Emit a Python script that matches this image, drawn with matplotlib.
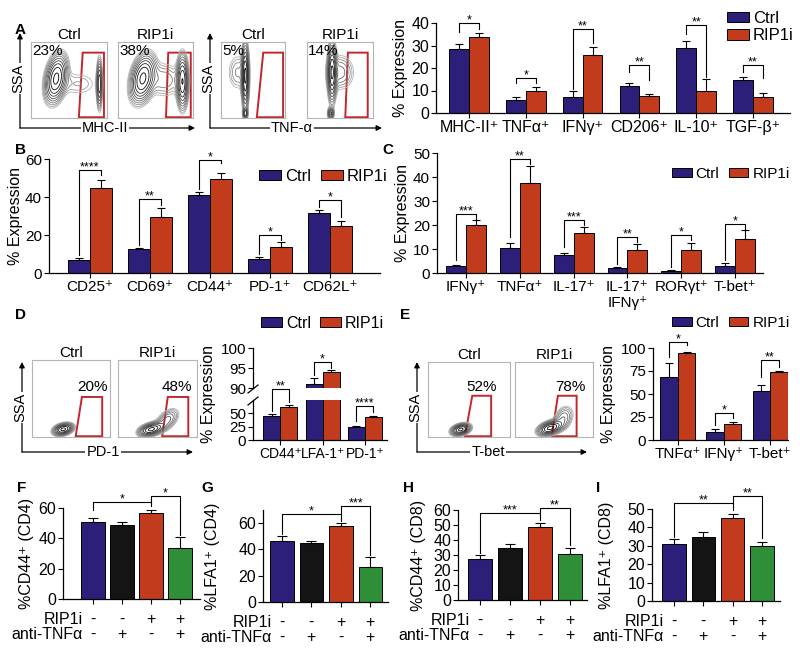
import numpy as np
import matplotlib.pyplot as plt
from matplotlib.patches import Patch, Polygon

plt.rcParams['font.family'] = ['Liberation Sans', 'DejaVu Sans']
plt.rcParams['axes.linewidth'] = 0.9

BLUE = '#2c1f7a'
RED = '#c33b1d'
BLACK = '#141414'
GREEN = '#2f8f38'
GATE = '#c1272d'

# ---------------- data ----------------
groups = ['Ctrl', 'RIP1i']

# A (macrophages)
a_cats = ['MHC-II⁺', 'TNFα⁺', 'IFNγ⁺', 'CD206⁺', 'IL-10⁺', 'TGF-β⁺']
a_ctrl = [28.5, 6, 7, 12, 29, 14.5]
a_ctrl_err = [2, 1, 3, 1.5, 3, 1.5]
a_rip = [34, 10, 26, 7.5, 10, 7]
a_rip_err = [1.5, 1.5, 3.5, 0.8, 5, 2]
a_sig = ['*', '*', '**', '**', '**', '**']
a_brk = [(40, 36, 37.5), (15.4, 13.2, 13.2), (37.5, 10.5, 31), (21.3, 18.4, 14.7),
         (39, 35.3, 16.2), (21.3, 18.4, 15.4)]
a_pct = ['23%', '38%', '5%', '14%']

# B (CD4 activation)
b_cats = ['CD25⁺', 'CD69⁺', 'CD44⁺', 'PD-1⁺', 'CD62L⁺']
b_ctrl = [7, 12.5, 41, 7.5, 31.5]
b_ctrl_err = [1, 0.5, 1.5, 1, 1.5]
b_rip = [45, 29.5, 49.5, 13.5, 24.5]
b_rip_err = [4, 4.5, 3, 3, 3]
b_sig = ['****', '**', '*', '*', '*']
b_brk = [(54.2, 9.5, 51.6), (39.2, 14.6, 35.7), (59.5, 44, 57.7), (19.9, 10, 17.2),
         (38.4, 34.8, 29.6)]

# C (cytokines)
c_cats = ['IFNγ⁺', 'TNFα⁺', 'IL-17⁺', 'IL-17⁺\nIFNγ⁺', 'RORγt⁺', 'T-bet⁺']
c_ctrl = [3, 10.5, 7.5, 2, 1, 3]
c_ctrl_err = [0.5, 2, 1, 0.5, 0.3, 1]
c_rip = [20, 37.5, 16.5, 9.5, 9.5, 14]
c_rip_err = [2, 7, 2.5, 2.5, 3, 4]
c_sig = ['***', '**', '***', '**', '*', '*']
c_brk = [(24.7, 5.3, 22.6), (47.6, 15, 45.6), (22, 10.8, 19.9), (15, 3.9, 12.9),
         (15.7, 2.5, 13.6), (20.6, 5.3, 18.5)]

# D (PD-1, broken axis)
d_cats = ['CD44⁺', 'LFA-1⁺', 'PD-1⁺']
d_ctrl = [45, 91, 25]
d_ctrl_err = [4, 1.5, 2]
d_rip = [62, 94, 44]
d_rip_err = [3, 0.4, 1]
d_sig = ['**', '*', '****']
d_brk = [(95.6, 55, 72), (96.6, 93.3, 95), (63.8, 35, 53)]
d_pct = ['20%', '48%']

# E (T-bet)
e_cats = ['TNFα⁺', 'IFNγ⁺', 'T-bet⁺']
e_ctrl = [69, 9, 53]
e_ctrl_err = [15, 3, 7]
e_rip = [95, 17, 73.5]
e_rip_err = [1, 3, 1]
e_sig = ['*', '*', '**']
e_brk = [(107, 90, 103), (29, 16, 23.5), (86.6, 68, 79)]
e_pct = ['52%', '78%']

# F-I (anti-TNFa blocking)
rip_signs = ['-', '-', '+', '+']
tnf_signs = ['-', '+', '-', '+']
f_vals = [51, 49, 57, 33.5]
f_err = [2.5, 1.5, 1.5, 7.5]
f_brk = [(63.7, 59, 61.5, '*'), (68, 63.7, 42, '*')]
g_vals = [46.5, 45, 58, 27]
g_err = [4, 1.5, 2, 7.5]
g_brk = [(67.1, 52, 62, '*'), (72.7, 67.1, 36, '***')]
h_vals = [27.5, 35, 48.5, 31]
h_err = [2.5, 2.5, 3, 3.5]
h_brk = [(57.8, 31.5, 53.3, '***'), (61.1, 57.8, 36.5, '**')]
i_vals = [31, 35, 45, 30]
i_err = [2.5, 2.5, 2.5, 2]
i_brk = [(53.3, 35, 49.6, '**'), (57.3, 53.3, 34, '**')]

# contour blobs for the flow plots: (cx, cy, sx, sy, weight, rho)
mhc_ctrl = [(0.33, 0.52, 0.075, 0.16, 1.0, 0.3), (0.90, 0.45, 0.02, 0.17, 0.6, 0.0),
            (0.62, 0.45, 0.16, 0.10, 0.1, 0.0)]
mhc_rip = [(0.33, 0.52, 0.085, 0.16, 1.0, 0.3), (0.86, 0.48, 0.04, 0.18, 0.9, 0.0),
           (0.62, 0.50, 0.13, 0.13, 0.18, 0.0)]
tnf_ctrl = [(0.38, 0.55, 0.03, 0.22, 1.0, 0.0), (0.38, 0.06, 0.02, 0.04, 0.6, 0.0),
            (0.26, 0.60, 0.09, 0.14, 0.15, 0.0)]
tnf_rip = [(0.38, 0.60, 0.035, 0.2, 1.0, 0.0), (0.36, 0.06, 0.025, 0.04, 0.6, 0.0),
           (0.50, 0.60, 0.12, 0.13, 0.25, 0.0)]
pd1_ctrl = [(0.40, 0.10, 0.065, 0.04, 1.0, 0.3)]
pd1_rip = [(0.42, 0.10, 0.08, 0.045, 1.0, 0.4), (0.62, 0.22, 0.08, 0.08, 0.3, 0.5)]
tbet_ctrl = [(0.40, 0.10, 0.06, 0.04, 1.0, 0.3)]
tbet_rip = [(0.45, 0.12, 0.08, 0.05, 1.0, 0.4), (0.62, 0.25, 0.07, 0.09, 0.25, 0.3)]

# ---------------- figure ----------------
W, H = 800, 651
fig = plt.figure(figsize=(W / 100, H / 100), dpi=100)
ov = fig.add_axes([0, 0, 1, 1], zorder=5)
ov.set_xlim(0, W)
ov.set_ylim(H, 0)
ov.axis('off')


def box(l, t, r, b):
    return fig.add_axes([l / W, 1 - b / H, (r - l) / W, (b - t) / H])


def style(ax, fs):
    ax.spines['top'].set_visible(False)
    ax.spines['right'].set_visible(False)
    ax.tick_params(direction='out', length=3.5, width=0.8, pad=1.5, labelsize=fs)


def bracket(ax, x1, x2, y, yl, yr, label, fs=9):
    ax.plot([x1, x1, x2, x2], [yl, y, y, yr], color='black', lw=0.8, clip_on=False)
    ax.annotate(label, ((x1 + x2) / 2, y), xytext=(0, -2.5), textcoords='offset points',
                ha='center', va='bottom', fontsize=fs, annotation_clip=False)


def pair_axes(rect, cats, ctrl, ctrl_err, rip, rip_err, w, xlim, ylim, yticks, fs_tick, fs_lab,
              brk, sig):
    ax = box(*rect)
    x = np.arange(len(cats))
    ek = dict(elinewidth=0.8, capsize=3, capthick=0.8, ecolor='black')
    z = np.zeros(len(x))
    ax.bar(x - w / 2, ctrl, w, color=BLUE, edgecolor='black', linewidth=0.7,
           yerr=[z, ctrl_err], error_kw=ek)
    ax.bar(x + w / 2, rip, w, color=RED, edgecolor='black', linewidth=0.7,
           yerr=[z, rip_err], error_kw=ek)
    ax.set_xlim(*xlim)
    ax.set_ylim(*ylim)
    ax.set_yticks(yticks)
    ax.set_xticks(x)
    ax.set_xticklabels(cats, fontsize=fs_lab)
    style(ax, fs_tick)
    for i, ((y, yl, yr), s) in enumerate(zip(brk, sig)):
        bracket(ax, i - w / 2, i + w / 2, y, yl, yr, s)
    return ax


def legend(x, y, ncol, fs):
    h = [Patch(fc=BLUE, ec='black', lw=0.7), Patch(fc=RED, ec='black', lw=0.7)]
    fig.legend(h, groups, loc='upper left', bbox_to_anchor=(x / W, 1 - y / H), ncol=ncol,
               frameon=False, fontsize=fs, handlelength=1.3, handleheight=0.6,
               handletextpad=0.25, columnspacing=0.6, labelspacing=0.15, borderpad=0,
               borderaxespad=0)


def flow(rect, blobs, gate, pct, pct_xy, pct_top, title):
    ax = box(*rect)
    ax.set_xlim(0, 1)
    ax.set_ylim(0, 1)
    ax.set_xticks([])
    ax.set_yticks([])
    for s in ax.spines.values():
        s.set_color('#b5b5b5')
        s.set_linewidth(0.8)
    xx, yy = np.meshgrid(np.linspace(0, 1, 220), np.linspace(0, 1, 220))
    zz = np.zeros_like(xx)
    for cx, cy, sx, sy, wgt, rho in blobs:
        dx = (xx - cx) / sx
        dy = (yy - cy) / sy
        zz += wgt * np.exp(-(dx * dx - 2 * rho * dx * dy + dy * dy) / (2 * (1 - rho * rho)))
    levels = zz.max() * np.geomspace(0.05, 0.9, 10)
    cols = [plt.cm.Greys(v) for v in np.linspace(0.4, 1.0, 10)]
    ax.contour(xx, yy, zz, levels=levels, colors=cols, linewidths=0.6)
    ax.add_patch(Polygon(gate, closed=True, fill=False, edgecolor=GATE, lw=1.4))
    ax.text(pct_xy[0], pct_xy[1], pct, transform=ax.transAxes, fontsize=11,
            ha='left' if pct_top else 'center', va='top' if pct_top else 'bottom')
    ax.set_title(title, fontsize=11, pad=1.5)
    return ax


def arrows(x0, y_top, y0, x_right, ylab_y, xlab, xlab_x):
    ap = dict(arrowstyle='-|>', color='black', lw=0.9, mutation_scale=8, shrinkA=0, shrinkB=0)
    ov.annotate('', xy=(x0, y_top), xytext=(x0, y0), arrowprops=ap)
    ov.annotate('', xy=(x_right, y0), xytext=(x0, y0), arrowprops=ap)
    bb = dict(fc='white', ec='none', pad=0.6)
    ov.text(x0 - 2, ylab_y, 'SSA', rotation=90, ha='center', va='center', fontsize=10.5, bbox=bb)
    ov.text(xlab_x, y0, xlab, ha='center', va='center', fontsize=10.5, bbox=bb)


def quad_axes(rect, vals, errs, xlim, ylim, yticks, brk):
    ax = box(*rect)
    x = np.arange(4)
    ax.bar(x, vals, 0.8, color=[BLUE, BLACK, RED, GREEN], edgecolor='black', linewidth=0.7,
           yerr=[np.zeros(4), errs],
           error_kw=dict(elinewidth=0.8, capsize=3.5, capthick=0.8, ecolor='black'))
    ax.set_xlim(*xlim)
    ax.set_ylim(*ylim)
    ax.set_yticks(yticks)
    ax.set_xticks(x)
    ax.set_xticklabels([])
    style(ax, 11.5)
    (y1, l1, r1, s1), (y2, l2, r2, s2) = brk
    bracket(ax, 0, 2, y1, l1, r1, s1)
    bracket(ax, 2, 3, y2, l2, r2, s2)
    for xi, r, t in zip(x, rip_signs, tnf_signs):
        ax.annotate(r, (xi, 0), xycoords=('data', 'axes fraction'), xytext=(0, -14.5),
                    textcoords='offset points', ha='center', va='center', fontsize=11.5)
        ax.annotate(t, (xi, 0), xycoords=('data', 'axes fraction'), xytext=(0, -25.5),
                    textcoords='offset points', ha='center', va='center', fontsize=11.5)
    ax.annotate('RIP1i', (x[0] - 0.35, 0), xycoords=('data', 'axes fraction'),
                xytext=(0, -14.5), textcoords='offset points', ha='right', va='center',
                fontsize=11.5)
    ax.annotate('anti-TNFα', (x[0] - 0.35, 0), xycoords=('data', 'axes fraction'),
                xytext=(0, -25.5), textcoords='offset points', ha='right', va='center',
                fontsize=11.5)
    return ax


# ---- panel A ----
flow((31, 42, 107, 118), mhc_ctrl, [(0.63, 0.01), (0.68, 0.86), (0.96, 0.86), (0.96, 0.01)],
     a_pct[0], (0.02, 0.98), True, 'Ctrl')
flow((118, 42, 193, 118), mhc_rip, [(0.64, 0.01), (0.67, 0.86), (0.97, 0.86), (0.97, 0.01)],
     a_pct[1], (0.02, 0.98), True, 'RIP1i')
flow((221, 42, 285, 118), tnf_ctrl, [(0.56, 0.01), (0.66, 0.86), (0.97, 0.86), (0.97, 0.01)],
     a_pct[2], (0.02, 0.98), True, 'Ctrl')
flow((307, 42, 373, 118), tnf_rip, [(0.58, 0.01), (0.62, 0.86), (0.92, 0.86), (0.92, 0.01)],
     a_pct[3], (0.02, 0.98), True, 'RIP1i')
arrows(20, 33, 128, 195, 78, 'MHC-II', 105)
arrows(210, 33, 128, 382, 78, 'TNF-α', 292)

pair_axes((436, 23, 790, 113), a_cats, a_ctrl, a_ctrl_err, a_rip, a_rip_err, 0.35,
          (-0.58, 5.65), (0, 40), [0, 10, 20, 30, 40], 11.5, 11, a_brk, a_sig)
legend(727, 11, 1, 12)

# ---- panel B ----
pair_axes((49, 159, 380, 273), b_cats, b_ctrl, b_ctrl_err, b_rip, b_rip_err, 0.37,
          (-0.68, 4.83), (0, 60), [0, 20, 40, 60], 11, 11, b_brk, b_sig)
legend(259, 169, 2, 12)

# ---- panel C ----
pair_axes((437, 153, 763, 273), c_cats, c_ctrl, c_ctrl_err, c_rip, c_rip_err, 0.37,
          (-0.54, 5.52), (0, 50), [0, 10, 20, 30, 40, 50], 11, 11, c_brk, c_sig)
legend(672, 167, 2, 11)

# ---- panel D ----
flow((32, 360, 110, 437), pd1_ctrl, [(0.56, 0.01), (0.64, 0.52), (0.9, 0.52), (0.9, 0.01)],
     d_pct[0], (0.77, 0.56), False, 'Ctrl')
flow((118, 360, 197, 437), pd1_rip, [(0.56, 0.01), (0.63, 0.52), (0.89, 0.52), (0.89, 0.01)],
     d_pct[1], (0.75, 0.56), False, 'RIP1i')
arrows(22, 362, 452, 193, 407, 'PD-1', 103)

d_top = box(253, 348, 387, 388)
d_bot = box(253, 400, 387, 440)
dx = np.arange(len(d_cats))
dw = 0.4
ek = dict(elinewidth=0.8, capsize=3, capthick=0.8, ecolor='black')
for ax in (d_top, d_bot):
    ax.bar(dx - dw / 2, d_ctrl, dw, color=BLUE, edgecolor='black', linewidth=0.7,
           yerr=[np.zeros(3), d_ctrl_err], error_kw=ek)
    ax.bar(dx + dw / 2, d_rip, dw, color=RED, edgecolor='black', linewidth=0.7,
           yerr=[np.zeros(3), d_rip_err], error_kw=ek)
    ax.set_xlim(-0.64, 2.52)
    style(ax, 11)
d_top.set_ylim(90, 100)
d_top.set_yticks([90, 95, 100])
d_top.spines['bottom'].set_visible(False)
d_top.set_xticks([])
d_bot.set_ylim(0, 75)
d_bot.set_yticks([0, 25, 50])
d_bot.set_xticks(dx)
d_bot.set_xticklabels(d_cats, fontsize=10)
for i, ((y, yl, yr), s) in enumerate(zip(d_brk, d_sig)):
    bracket(d_top if i == 1 else d_bot, i - dw / 2, i + dw / 2, y, yl, yr, s)
ov.plot([248, 258], [393, 385], color='black', lw=0.9)
ov.plot([248, 258], [405, 397], color='black', lw=0.9)
legend(261, 316, 2, 11.5)

# ---- panel E ----
flow((428, 362, 510, 437), tbet_ctrl, [(0.45, 0.01), (0.54, 0.55), (0.77, 0.55), (0.77, 0.01)],
     e_pct[0], (0.65, 0.58), False, 'Ctrl')
flow((515, 362, 593, 437), tbet_rip, [(0.47, 0.01), (0.55, 0.55), (0.79, 0.55), (0.79, 0.01)],
     e_pct[1], (0.71, 0.58), False, 'RIP1i')
arrows(417, 362, 452, 587, 407, 'T-bet', 488)

pair_axes((653, 348, 788, 440), e_cats, e_ctrl, e_ctrl_err, e_rip, e_rip_err, 0.38,
          (-0.54, 2.39), (0, 100), [0, 25, 50, 75, 100], 11, 10, e_brk, e_sig)
legend(672, 316, 2, 11)

# ---- panels F-I ----
quad_axes((63, 508, 200, 599), f_vals, f_err, (-1.03, 3.69), (0, 60), [0, 20, 40, 60], f_brk)
quad_axes((263, 510, 388, 602), g_vals, g_err, (-0.64, 3.6), (0, 70), [0, 20, 40, 60], g_brk)
quad_axes((458, 510, 587, 600), h_vals, h_err, (-0.73, 3.57), (0, 60),
          [0, 10, 20, 30, 40, 50, 60], h_brk)
quad_axes((652, 509, 780, 601), i_vals, i_err, (-0.75, 3.62), (0, 50),
          [0, 10, 20, 30, 40, 50], i_brk)

# ---- y labels and panel letters ----
ylabels = [(401, 68, '% Expression'), (16, 216, '% Expression'), (402, 213, '% Expression'),
           (208, 394, '% Expression'), (608, 394, '% Expression'),
           (27, 553, '%CD44⁺ (CD4)'), (212, 556, '%LFA1⁺ (CD4)'),
           (418, 555, '%CD44⁺ (CD8)'), (606, 555, '%LFA1⁺ (CD8)')]
for x, y, s in ylabels:
    ov.text(x, y, s, rotation=90, ha='center', va='center', fontsize=11.5)

letters = [(20, 30, 'A'), (20, 150, 'B'), (388, 150, 'C'), (20, 315, 'D'), (405, 315, 'E'),
           (22, 488, 'F'), (207, 488, 'G'), (408, 488, 'H'), (598, 488, 'I')]
for x, y, s in letters:
    ov.text(x, y, s, ha='center', va='center', fontsize=11, fontweight='bold')

fig.savefig('out.png', dpi=100)
